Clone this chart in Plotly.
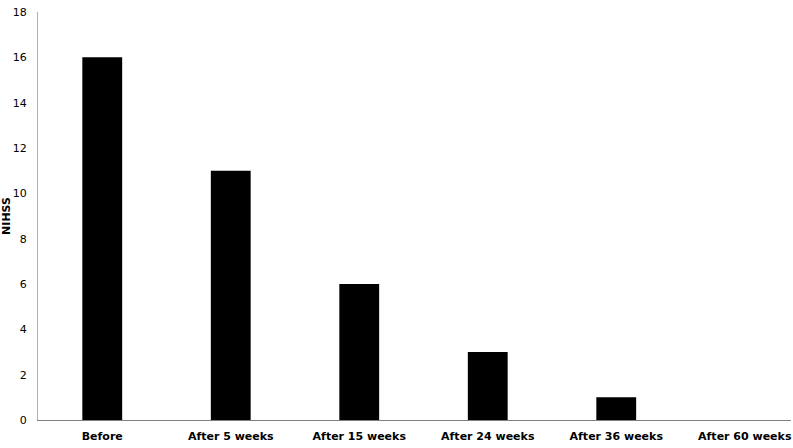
import plotly.graph_objects as go

categories = ["Before", "After 5 weeks", "After 15 weeks", "After 24 weeks",
              "After 36 weeks", "After 60 weeks"]
nihss = [16, 11, 6, 3, 1, 0]

fig = go.Figure()
fig.add_trace(go.Bar(x=categories, y=nihss, marker_color="black",
                     marker_line_width=0))

fig.update_layout(
    width=793, height=448,
    margin=dict(l=38, r=2, t=12, b=28),
    plot_bgcolor="white", paper_bgcolor="white",
    bargap=0.69,
    showlegend=False,
    font=dict(family="DejaVu Sans", size=11, color="black"),
)
# the original chart runs past the right edge, so the last slot is cut short
fig.update_xaxes(
    automargin=False,
    range=[-0.5, 5.36],
    showline=True, linecolor="#808080", linewidth=1,
    showgrid=False, ticks="", ticklabelstandoff=6,
    tickfont=dict(family="DejaVu Sans", size=11, color="black"),
    tickprefix="<b>", ticksuffix="</b>",
)
fig.update_yaxes(
    automargin=False,
    range=[0, 18], dtick=2,
    showline=True, linecolor="#b0b0b0", linewidth=1,
    showgrid=False, ticks="", zeroline=False, ticklabelstandoff=8,
    tickfont=dict(family="DejaVu Sans", size=11, color="black"),
    title=dict(text="<b>NIHSS</b>", standoff=4,
               font=dict(family="DejaVu Sans", size=11, color="black")),
)

# drop the default 8px body margin so the figure sits at the page corner
fig.write_html("out.html", config={"displayModeBar": False},
               post_script="document.body.style.margin = '0';")
